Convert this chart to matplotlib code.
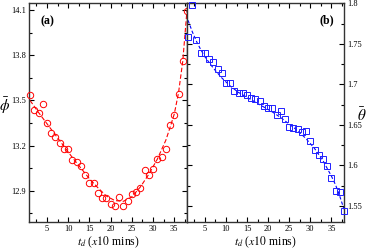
import matplotlib
matplotlib.use("Agg")
import matplotlib.pyplot as plt
from matplotlib.ticker import MultipleLocator

plt.rcParams['font.family'] = ['Liberation Serif', 'DejaVu Serif']
plt.rcParams['mathtext.fontset'] = 'stix'

# panel (a): phi bar vs t_d
t_a = list(range(1, 39))
phi = [13.533, 13.438, 13.415, 13.473, 13.349, 13.282, 13.255, 13.215, 13.178, 13.180,
       13.107, 13.093, 13.064, 13.004, 12.949, 12.949, 12.882, 12.851, 12.851, 12.815,
       12.802, 12.860, 12.802, 12.833, 12.878, 12.895, 12.918, 13.040, 13.007, 13.044,
       13.111, 13.122, 13.178, 13.338, 13.400, 13.542, 13.760, 14.093]
fit_a_t = [1, 3, 5, 7, 9, 11, 13, 15, 17, 19, 21, 23, 25, 27, 29, 31, 33, 34, 35, 36, 37, 38]
fit_a = [13.50, 13.42, 13.345, 13.27, 13.195, 13.12, 13.05, 12.98, 12.92, 12.865, 12.835,
         12.83, 12.86, 12.925, 13.01, 13.11, 13.235, 13.32, 13.41, 13.55, 13.76, 14.1]

# panel (b): theta bar vs t_d
t_b = list(range(1, 39))
theta = [1.7588, 1.7975, 1.7547, 1.7383, 1.7390, 1.7317, 1.7276, 1.7186, 1.7144, 1.7013,
         1.7013, 1.6915, 1.6898, 1.6898, 1.6870, 1.6832, 1.6816, 1.6800, 1.6733, 1.6705,
         1.6705, 1.6619, 1.6676, 1.6569, 1.6478, 1.6462, 1.6453, 1.6416, 1.6429, 1.6302,
         1.6190, 1.6133, 1.6080, 1.5997, 1.5846, 1.5689, 1.5677, 1.5438]
fit_b_t = [1, 2, 3, 4, 5, 7, 9, 11, 13, 15, 17, 19, 21, 23, 25, 27, 29, 31, 33, 35, 36, 37, 38]
fit_b = [1.779, 1.765, 1.753, 1.743, 1.734, 1.720, 1.708, 1.698, 1.690, 1.684, 1.678, 1.672,
         1.666, 1.659, 1.651, 1.643, 1.633, 1.621, 1.606, 1.587, 1.576, 1.562, 1.546]

fig = plt.figure(figsize=(3.74, 2.48), dpi=100)
ax1 = fig.add_axes([0.0775, 0.105, 0.4225, 0.883])
ax2 = fig.add_axes([0.5, 0.105, 0.4198, 0.883])

ax1.plot(fit_a_t, fit_a, '--', color='red', lw=0.8, dashes=(4, 2))
ax1.plot(t_a, phi, 'o', mfc='none', mec='red', ms=4.6, mew=0.7, clip_on=False, zorder=5)
ax2.plot(fit_b_t, fit_b, '--', color='blue', lw=0.8, dashes=(3, 2))
ax2.plot(t_b, theta, 's', mfc='none', mec='#2020ff', ms=4.2, mew=0.7, clip_on=False, zorder=5)

ax1.set_xlim(0.75, 38)
ax1.set_ylim(12.693, 14.147)
ax2.set_xlim(0.75, 38)
ax2.set_ylim(1.5303, 1.8004)

for ax in (ax1, ax2):
    ax.xaxis.set_major_locator(MultipleLocator(5))
    ax.xaxis.set_minor_locator(MultipleLocator(2.5))
    ax.tick_params(which='both', direction='in', top=True, bottom=True, left=True, right=True,
                   labelsize=6, width=0.8, pad=2)
    ax.tick_params(which='major', length=3.5)
    ax.tick_params(which='minor', length=2)
    for s in ax.spines.values():
        s.set_linewidth(1.0)
        s.set_color('#333333')
    ax.set_xlabel(r'$t_d$ ($\mathit{x10}$ mins)', fontsize=8.5, labelpad=1)

ax1.yaxis.set_major_locator(MultipleLocator(0.3))
ax1.yaxis.set_minor_locator(MultipleLocator(0.15))
ax1.set_yticks([12.9, 13.2, 13.5, 13.8, 14.1])
ax1.set_yticklabels(['12.9', '13.2', '13.5', '13.8', '14.1'])
ax2.yaxis.set_major_locator(MultipleLocator(0.05))
ax2.yaxis.set_minor_locator(MultipleLocator(0.025))
ax2.tick_params(labelleft=False, labelright=True)
ax2.set_yticks([1.55, 1.6, 1.65, 1.7, 1.75, 1.8])
ax2.set_yticklabels(['1.55', '1.6', '1.65', '1.7', '1.75', '1.8'])

ax1.set_ylabel(r'$\bar{\phi}$', fontsize=11, rotation=0, labelpad=3, va='center')
ax1.yaxis.set_label_coords(-0.155, 0.53)
ax2.yaxis.set_label_position('right')
ax2.set_ylabel(r'$\bar{\theta}$', fontsize=11, rotation=0, labelpad=4, va='center')
ax2.yaxis.set_label_coords(1.115, 0.49)

ax1.text(0.07, 0.915, '(a)', transform=ax1.transAxes, fontsize=8.5, fontweight='bold', va='center')
ax2.text(0.845, 0.92, '(b)', transform=ax2.transAxes, fontsize=8.5, fontweight='bold', va='center')

fig.savefig('out.png', dpi=100)
